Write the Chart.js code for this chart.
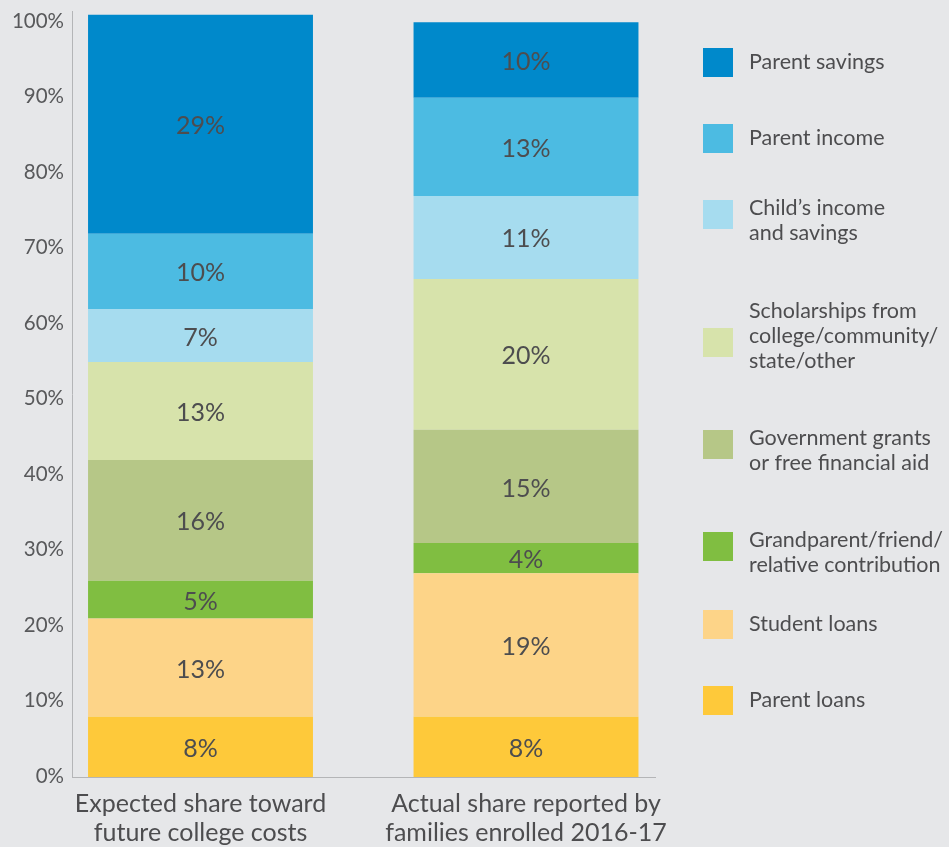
<!DOCTYPE html>
<html>
<head>
<meta charset="utf-8">
<script src="https://cdn.jsdelivr.net/npm/chart.js@4.4.1/dist/chart.umd.min.js"></script>
<style>
  html, body { margin: 0; padding: 0; background: #e6e7e9; }
  #wrap { width: 949px; height: 847px; position: relative; }
</style>
</head>
<body>
<div id="wrap"><canvas id="chart" width="949" height="847"></canvas></div>
<script>
// categories (x labels, one array of lines per bar)
const categories = [
    ['Expected share toward', 'future college costs'],
    ['Actual share reported by', 'families enrolled 2016-17']
];
// series, bottom of the stack first
const seriesNames = [
    ['Parent loans'],
    ['Student loans'],
    ['Grandparent/friend/', 'relative contribution'],
    ['Government grants', 'or free financial aid'],
    ['Scholarships from', 'college/community/', 'state/other'],
    ['Child’s income', 'and savings'],
    ['Parent income'],
    ['Parent savings']
];
const expectedShare = [8, 13, 5, 16, 13, 7, 10, 29];
const actualShare = [8, 19, 4, 15, 20, 11, 13, 10];
const yTicks = [0, 10, 20, 30, 40, 50, 60, 70, 80, 90, 100];

const colors = ['#fec93a', '#fdd488', '#80be41', '#b6c787', '#d7e3ab', '#a6dcef', '#4cbbe2', '#0089cb'];
const textColor = '#4d4d4f';
const fontFamily = 'Lato, "Noto Sans", sans-serif';

const datasets = seriesNames.map(function (name, i) {
    return {
        label: name.join(' '),
        data: [{ x: 0, y: expectedShare[i] }, { x: 1, y: actualShare[i] }],
        backgroundColor: colors[i],
        borderWidth: 0,
        stack: 'share',
        barPercentage: 0.691,
        categoryPercentage: 1
    };
});

// value labels in the middle of each segment
const segmentLabels = {
    id: 'segmentLabels',
    afterDatasetsDraw(chart) {
        const ctx = chart.ctx;
        ctx.save();
        ctx.font = '25px ' + fontFamily;
        ctx.fillStyle = textColor;
        ctx.textAlign = 'center';
        ctx.textBaseline = 'middle';
        chart.data.datasets.forEach(function (ds, i) {
            chart.getDatasetMeta(i).data.forEach(function (bar, j) {
                ctx.fillText(ds.data[j].y + '%', bar.x, (bar.y + bar.base) / 2 + 2);
            });
        });
        ctx.restore();
    }
};

// legend on the right, top entry first
const sideLegend = {
    id: 'sideLegend',
    afterDraw(chart, args, opts) {
        const ctx = chart.ctx;
        ctx.save();
        ctx.font = '21.5px ' + fontFamily;
        ctx.textBaseline = 'middle';
        const n = seriesNames.length;
        for (let k = 0; k < n; k++) {
            const i = n - 1 - k;
            const cy = opts.centers[k];
            ctx.fillStyle = colors[i];
            ctx.fillRect(703, cy - 14.5, 30, 29);
            ctx.fillStyle = textColor;
            const lines = seriesNames[i];
            let y0 = cy;
            if (lines.length === 2) y0 = cy - 6;
            if (lines.length === 3) y0 = cy - 31;
            lines.forEach(function (line, l) {
                ctx.fillText(line, 749, y0 + l * 25);
            });
        }
        ctx.restore();
    }
};

new Chart(document.getElementById('chart'), {
    type: 'bar',
    data: { datasets: datasets },
    plugins: [segmentLabels, sideLegend],
    options: {
        responsive: false,
        animation: false,
        layout: { padding: { top: 11, right: 294, bottom: 0, left: 0 } },
        plugins: {
            legend: { display: false },
            tooltip: { enabled: false },
            sideLegend: { centers: [62.5, 138.5, 214.5, 342.5, 444.5, 546.5, 624.5, 700.5] }
        },
        scales: {
            x: {
                type: 'linear',
                offset: false,
                min: -0.3948,
                max: 1.3963,
                grid: { display: false, drawTicks: false },
                border: { display: true, color: '#b4b5b7', width: 1 },
                afterBuildTicks: function (scale) {
                    scale.ticks = categories.map(function (c, i) { return { value: i }; });
                },
                afterFit: function (scale) {
                    scale.height = 70;
                    scale.paddingLeft = 0;
                    scale.paddingRight = 0;
                },
                ticks: {
                    autoSkip: false,
                    maxRotation: 0,
                    padding: 13,
                    color: textColor,
                    font: { family: fontFamily, size: 25, lineHeight: 1.14 },
                    callback: function (value, index) { return categories[index]; }
                }
            },
            y: {
                stacked: true,
                min: 0,
                max: 101.5,
                grid: { display: false, drawTicks: false },
                border: { display: true, color: '#b4b5b7', width: 1 },
                afterBuildTicks: function (scale) {
                    scale.ticks = yTicks.map(function (v) { return { value: v }; });
                },
                afterFit: function (scale) {
                    scale.width = 72;
                    scale.paddingTop = 0;
                    scale.paddingBottom = 0;
                },
                ticks: {
                    padding: 8,
                    labelOffset: -1,
                    color: '#58595b',
                    font: { family: fontFamily, size: 20.5 },
                    callback: function (value) { return value + '%'; }
                }
            }
        }
    }
});
</script>
</body>
</html>
